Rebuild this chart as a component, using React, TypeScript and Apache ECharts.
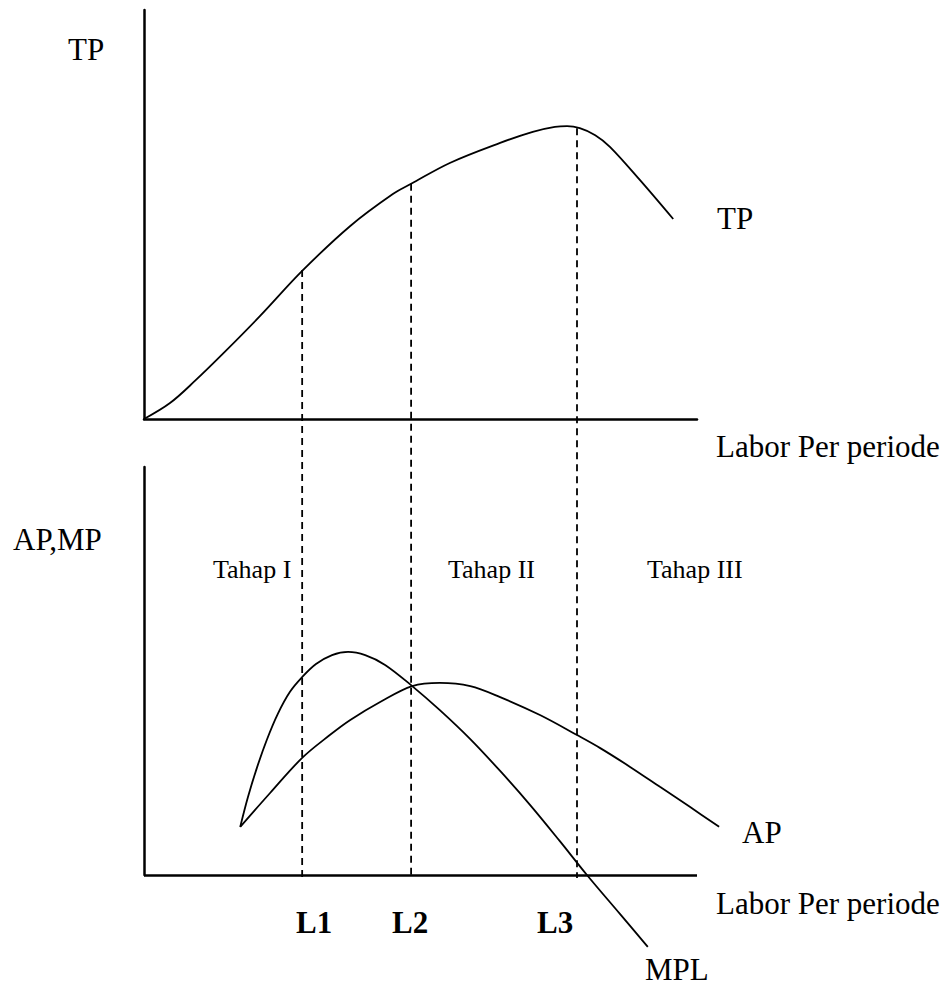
import React, { useEffect, useRef } from "react";
import * as echarts from "echarts";

// ---- Data (x: labor units along the axis, axis runs 0..100; y: output units 0..100) ----
// Total product curve (top panel)
const tpX = [0, 4.7, 9.2, 14.6, 21.0, 28.6, 37.3, 45.0, 48.3, 55.3, 64.4, 70.3, 74.3, 76.5, 78.8, 81.6, 84.3, 89.7, 95.7];
const tpY = [0, 3.9, 9.3, 16.4, 25.2, 36.2, 47.2, 55.0, 57.5, 62.6, 67.5, 70.2, 71.4, 71.6, 71.1, 69.4, 66.5, 58.4, 48.9];

// Marginal product curve (bottom panel)
const mplX = [17.4, 18.8, 20.4, 22.2, 24.2, 26.4, 28.6, 31.1, 34.0, 36.9, 40.0, 43.6, 48.5, 53.5, 59.0, 64.4, 69.8, 75.2, 80.1, 86.1, 91.1];
const mplY = [11.8, 19.1, 26.2, 33.1, 39.5, 44.9, 48.5, 51.7, 53.9, 54.7, 53.9, 51.5, 46.3, 40.4, 33.3, 25.5, 17.2, 8.3, 0, -9.6, -17.6];

// Average product curve (bottom panel)
const apX = [17.4, 22.8, 28.6, 33.6, 37.3, 42.7, 48.5, 53.5, 59.0, 64.4, 71.6, 78.3, 82.5, 87.9, 93.3, 98.7, 104.0];
const apY = [11.8, 20.1, 28.7, 34.3, 38.0, 42.4, 46.3, 47.1, 46.3, 43.6, 39.2, 34.3, 31.1, 26.5, 21.6, 16.7, 11.8];

// Stage boundaries L1, L2, L3 (x) and where the guides meet TP (y, top-panel units)
const guideX = [28.6, 48.3, 78.3];
const guideTop = [36.4, 57.5, 71.1];
const GUIDE_BOTTOM = -112.2; // guides run down past the lower axis (top-panel units)

const AXIS_END = 100; // the horizontal axes end at x = 100
const BOTTOM_X_MAX = 105; // room on the lower panel for the AP curve's tail

const guideLabels = ["L1", "L2", "L3"];
const stageLabels = ["Tahap I", "Tahap II", "Tahap III"];

const zip = (xs: number[], ys: number[]) => xs.map((x, i) => [x, ys[i]]);

const SERIF = "'Liberation Serif', 'Times New Roman', serif";

export default function App() {
  const ref = useRef<HTMLDivElement>(null);

  useEffect(() => {
    if (!ref.current) return;
    const chart = echarts.init(ref.current, undefined, { renderer: "svg" });

    const axisLine = { show: true, onZero: true, lineStyle: { color: "#000", width: 2.5 } };
    const hidden = {
      axisTick: { show: false },
      axisLabel: { show: false },
      splitLine: { show: false },
    };
    const curve = { color: "#000", width: 1.8 };

    const guideSeries = guideX.map((x, i) => ({
      type: "line",
      xAxisIndex: 0,
      yAxisIndex: 0,
      data: [
        [x, guideTop[i]],
        [x, GUIDE_BOTTOM],
      ],
      showSymbol: false,
      clip: false,
      silent: true,
      lineStyle: { color: "#000", width: 1.8, type: [7, 5] },
    }));

    const txt = (text: string, x: number, y: number, size: number, bold = false) => ({
      type: "text",
      x,
      y,
      silent: true,
      style: {
        text,
        fill: "#000",
        font: `${bold ? "bold " : ""}${size}px ${SERIF}`,
        align: "left",
        verticalAlign: "middle",
      },
    });

    const labelXs = [296, 392, 537];
    const stageXs = [213, 448, 647];
    const unit = 553 / AXIS_END; // px per x unit, shared by both panels

    chart.setOption({
      animation: false,
      backgroundColor: "#fff",
      grid: [
        { left: 144, top: 10, width: 553, height: 409 },
        { left: 144, top: 467, width: unit * BOTTOM_X_MAX, height: 408 },
      ],
      xAxis: [
        { type: "value", gridIndex: 0, min: 0, max: AXIS_END, axisLine, ...hidden },
        {
          type: "value",
          gridIndex: 1,
          min: 0,
          max: BOTTOM_X_MAX,
          axisLine: { show: false },
          ...hidden,
        },
      ],
      yAxis: [
        { type: "value", gridIndex: 0, min: 0, max: 100, axisLine, ...hidden },
        { type: "value", gridIndex: 1, min: 0, max: 100, axisLine, ...hidden },
      ],
      series: [
        {
          type: "line",
          name: "TP",
          xAxisIndex: 0,
          yAxisIndex: 0,
          data: zip(tpX, tpY),
          smooth: 0.35,
          showSymbol: false,
          clip: false,
          lineStyle: curve,
        },
        ...guideSeries,
        {
          type: "line",
          name: "MPL",
          xAxisIndex: 1,
          yAxisIndex: 1,
          data: zip(mplX, mplY),
          smooth: 0.35,
          showSymbol: false,
          clip: false,
          lineStyle: curve,
        },
        {
          type: "line",
          name: "AP",
          xAxisIndex: 1,
          yAxisIndex: 1,
          data: zip(apX, apY),
          smooth: 0.35,
          showSymbol: false,
          clip: false,
          lineStyle: curve,
          markLine: {
            silent: true,
            symbol: ["none", "none"],
            label: { show: false },
            lineStyle: { color: "#000", width: 2.5, type: "solid" },
            data: [[{ coord: [0, 0] }, { coord: [AXIS_END, 0] }]],
          },
        },
      ],
      graphic: [
        txt("TP", 68, 49, 31),
        txt("TP", 717, 218, 31),
        txt("Labor Per periode", 716, 446, 31),
        txt("AP,MP", 13, 539, 31),
        ...stageLabels.map((s, i) => txt(s, stageXs[i], 569, 26)),
        txt("AP", 742, 832, 31),
        txt("Labor Per periode", 716, 903, 31),
        ...guideLabels.map((s, i) => txt(s, labelXs[i], 922, 31, true)),
        txt("MPL", 645, 969, 31),
      ],
    });

    return () => chart.dispose();
  }, []);

  return (
    <div
      ref={ref}
      style={{ position: "fixed", left: 0, top: 0, width: 951, height: 988, background: "#fff" }}
    />
  );
}
